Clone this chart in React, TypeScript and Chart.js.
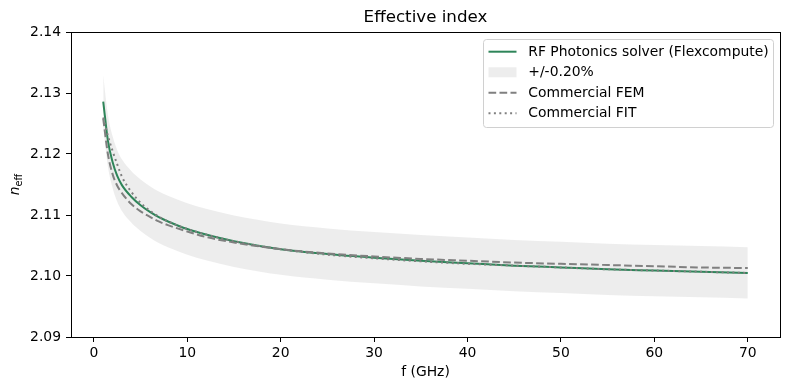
import React, { useEffect, useRef } from "react";
import { Chart, registerables } from "chart.js";
Chart.register(...registerables);

const freqGHz = [1, 1.5, 2, 2.5, 3, 4, 5, 6, 7, 8, 10, 12, 15, 20, 25, 30, 35, 40, 45, 50, 55, 60, 65, 70];
const flexcompute = [2.1286, 2.1222, 2.1187, 2.1164, 2.1149, 2.1130, 2.1116, 2.1105, 2.1096, 2.1089, 2.1077, 2.1068, 2.1057, 2.1044, 2.1036, 2.1030, 2.1025, 2.1021, 2.1017, 2.1014, 2.1011, 2.1009, 2.1007, 2.1005];
const commercialFEM = [2.1258, 2.1200, 2.1167, 2.1148, 2.1136, 2.1118, 2.1106, 2.1097, 2.1089, 2.1083, 2.1073, 2.1064, 2.1055, 2.1044, 2.1037, 2.1032, 2.1028, 2.1025, 2.1022, 2.1020, 2.1018, 2.1016, 2.1014, 2.1013];
const commercialFIT = [2.1260, 2.1230, 2.1205, 2.1183, 2.1163, 2.1138, 2.1120, 2.1107, 2.1097, 2.1089, 2.1077, 2.1068, 2.1057, 2.1044, 2.1035, 2.1029, 2.1024, 2.1020, 2.1017, 2.1014, 2.1011, 2.1009, 2.1007, 2.1005];
const bandFraction = 0.002;
const xTicks = [0, 10, 20, 30, 40, 50, 60, 70];
const yTicks = [2.09, 2.1, 2.11, 2.12, 2.13, 2.14];

const FONT = "'DejaVu Sans', sans-serif";
const GREEN = "#2e8559";
const GRAY = "#808080";
const BAND = "rgba(211,211,211,0.42)";

const toPts = (ys: number[]) => freqGHz.map((x, i) => ({ x, y: ys[i] }));

const decorPlugin = {
  id: "decor",
  afterDatasetsDraw(chart: any) {
    const { ctx, chartArea: a } = chart;
    ctx.save();
    ctx.strokeStyle = "#000";
    ctx.lineWidth = 1;
    ctx.strokeRect(Math.round(a.left) + 0.5, Math.round(a.top) + 0.5, Math.round(a.right - a.left), Math.round(a.bottom - a.top));
    ctx.fillStyle = "#000";
    ctx.font = `16.7px ${FONT}`;
    ctx.textAlign = "center";
    ctx.textBaseline = "middle";
    ctx.fillText("Effective index", (a.left + a.right) / 2, 18);
    ctx.font = `13.9px ${FONT}`;
    ctx.fillText("f (GHz)", (a.left + a.right) / 2, 372);
    ctx.save();
    ctx.translate(15, (a.top + a.bottom) / 2);
    ctx.rotate(-Math.PI / 2);
    ctx.textAlign = "left";
    ctx.textBaseline = "alphabetic";
    ctx.font = `italic 13.9px ${FONT}`;
    const wn = ctx.measureText("n").width;
    ctx.font = `9.7px ${FONT}`;
    const we = ctx.measureText("eff").width;
    const x0 = -(wn + we) / 2;
    ctx.font = `italic 13.9px ${FONT}`;
    ctx.fillText("n", x0, 4);
    ctx.font = `9.7px ${FONT}`;
    ctx.fillText("eff", x0 + wn, 7);
    ctx.restore();

    const bx = 483.5, by = 39.5, bw = 290, bh = 88, r = 3;
    ctx.beginPath();
    ctx.moveTo(bx + r, by);
    ctx.lineTo(bx + bw - r, by);
    ctx.arcTo(bx + bw, by, bx + bw, by + r, r);
    ctx.lineTo(bx + bw, by + bh - r);
    ctx.arcTo(bx + bw, by + bh, bx + bw - r, by + bh, r);
    ctx.lineTo(bx + r, by + bh);
    ctx.arcTo(bx, by + bh, bx, by + bh - r, r);
    ctx.lineTo(bx, by + r);
    ctx.arcTo(bx, by, bx + r, by, r);
    ctx.closePath();
    ctx.fillStyle = "rgba(255,255,255,0.8)";
    ctx.fill();
    ctx.strokeStyle = "#d0d0d0";
    ctx.lineWidth = 1;
    ctx.stroke();

    const rows = [51.7, 72.3, 92.7, 113.3];
    const sx0 = 488.5, sx1 = 516.5, tx = 528.3;
    const labels = ["RF Photonics solver (Flexcompute)", "+/-0.20%", "Commercial FEM", "Commercial FIT"];
    ctx.lineWidth = 2;
    ctx.strokeStyle = GREEN;
    ctx.setLineDash([]);
    ctx.beginPath(); ctx.moveTo(sx0, rows[0]); ctx.lineTo(sx1, rows[0]); ctx.stroke();
    ctx.fillStyle = BAND;
    ctx.fillRect(sx0, rows[1] - 5, sx1 - sx0, 10);
    ctx.strokeStyle = GRAY;
    ctx.setLineDash([7.7, 3.3]);
    ctx.beginPath(); ctx.moveTo(sx0, rows[2]); ctx.lineTo(sx1, rows[2]); ctx.stroke();
    ctx.setLineDash([2, 3.4]);
    ctx.beginPath(); ctx.moveTo(sx0, rows[3]); ctx.lineTo(sx1, rows[3]); ctx.stroke();
    ctx.setLineDash([]);
    ctx.fillStyle = "#000";
    ctx.font = `13.9px ${FONT}`;
    ctx.textAlign = "left";
    ctx.textBaseline = "middle";
    labels.forEach((t, i) => ctx.fillText(t, tx, rows[i] + 0.5));
    ctx.restore();
  },
};

export default function App() {
  const ref = useRef<HTMLCanvasElement | null>(null);
  useEffect(() => {
    document.body.style.margin = "0";
    const canvas = ref.current!;
    const upper = flexcompute.map((v) => v * (1 + bandFraction));
    const lower = flexcompute.map((v) => v * (1 - bandFraction));
    const lineCommon = { pointRadius: 0, borderWidth: 2, cubicInterpolationMode: "monotone" as const, fill: false };
    const chart = new Chart(canvas, {
      type: "line",
      data: {
        datasets: [
          { label: "Commercial FIT", data: toPts(commercialFIT), borderColor: GRAY, borderDash: [2, 3.4], order: 0, ...lineCommon },
          { label: "Commercial FEM", data: toPts(commercialFEM), borderColor: GRAY, borderDash: [7.7, 3.3], order: 1, ...lineCommon },
          { label: "RF Photonics solver (Flexcompute)", data: toPts(flexcompute), borderColor: GREEN, order: 2, ...lineCommon },
          { label: "+/-0.20%", data: toPts(upper), borderWidth: 0, pointRadius: 0, backgroundColor: BAND, borderColor: "rgba(0,0,0,0)", fill: "+1", order: 3, cubicInterpolationMode: "monotone" },
          { label: "lower", data: toPts(lower), borderWidth: 0, pointRadius: 0, borderColor: "rgba(0,0,0,0)", fill: false, order: 4, cubicInterpolationMode: "monotone" },
        ],
      },
      options: {
        animation: false,
        responsive: false,
        maintainAspectRatio: false,
        layout: { padding: { left: 0, top: 32, right: 10, bottom: 0 } },
        plugins: { legend: { display: false }, title: { display: false }, tooltip: { enabled: false } },
        scales: {
          x: {
            type: "linear",
            min: -2.45,
            max: 73.45,
            afterBuildTicks: (s: any) => { s.ticks = xTicks.map((v) => ({ value: v })); },
            afterFit: (s: any) => { s.height = 53; },
            ticks: { color: "#000", font: { family: FONT, size: 13.9 }, padding: 3, maxRotation: 0, callback: (v: any) => String(v) },
            grid: { display: true, drawOnChartArea: false, drawTicks: true, tickLength: 5, color: "#000", lineWidth: 1 },
            border: { display: false },
          },
          y: {
            type: "linear",
            min: 2.09,
            max: 2.14,
            afterBuildTicks: (s: any) => { s.ticks = yTicks.map((v) => ({ value: v })); },
            afterFit: (s: any) => { s.width = 71; },
            ticks: { color: "#000", font: { family: FONT, size: 13.9 }, padding: 5, callback: (v: any) => Number(v).toFixed(2) },
            grid: { display: true, drawOnChartArea: false, drawTicks: true, tickLength: 5, color: "#000", lineWidth: 1 },
            border: { display: false },
          },
        },
      },
      plugins: [decorPlugin],
    } as any);
    return () => chart.destroy();
  }, []);
  return (
    <div style={{ width: 790, height: 390 }}>
      <canvas ref={ref} width={790} height={390} style={{ width: 790, height: 390, display: "block" }} />
    </div>
  );
}
